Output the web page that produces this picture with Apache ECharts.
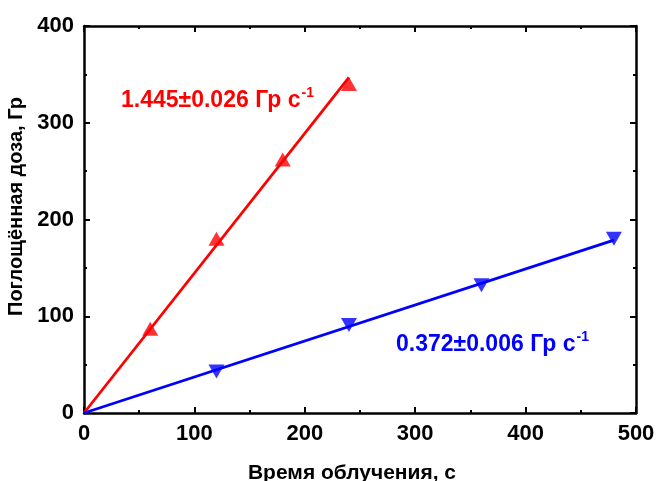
<!DOCTYPE html>
<html>
<head>
<meta charset="utf-8">
<script src="https://cdn.jsdelivr.net/npm/echarts@6/dist/echarts.min.js"></script>
<style>
  html, body { margin: 0; padding: 0; background: #fff; }
  #chart { width: 656px; height: 481px; }
</style>
</head>
<body>
<div id="chart"></div>
<script>
// Irradiation time (s) and absorbed dose (Gy) for the two sources
const redTime = [60, 120, 180, 240];
const redDose = [87, 180, 262, 340];
const blueTime = [120, 240, 360, 480];
const blueDose = [43, 91, 132, 180];

// Linear fits through the origin: endpoints of each fitted line
const redFitTime = [0, 240];
const redFitDose = [0, 346.8];
const blueFitTime = [0, 480];
const blueFitDose = [0, 178.6];

const xTicks = [0, 100, 200, 300, 400, 500];
const yTicks = [0, 100, 200, 300, 400];

const redLabel = '1.445±0.026 Гр с';
const blueLabel = '0.372±0.006 Гр с';
const unitExp = '-1';

const FONT = '"Liberation Sans", Arial, sans-serif';
const pairs = (xs, ys) => xs.map((x, i) => [x, ys[i]]);

// Measure text so the exponent can sit right after the main label
const measureCtx = document.createElement('canvas').getContext('2d');
function textWidth(str, size) {
  measureCtx.font = 'bold ' + size + 'px ' + FONT;
  return measureCtx.measureText(str).width;
}

const LABEL_SIZE = 23;
const EXP_SIZE = 14;

function rateLabel(text, color, x, y) {
  return {
    type: 'group', left: x, top: y,
    children: [
      {
        type: 'text', x: 0, y: 0,
        style: { text: text, fill: color, fontFamily: FONT, fontWeight: 'bold', fontSize: LABEL_SIZE,
                 verticalAlign: 'top' }
      },
      {
        type: 'text', x: textWidth(text, LABEL_SIZE) + 1, y: -3,
        style: { text: unitExp, fill: color, fontFamily: FONT, fontWeight: 'bold', fontSize: EXP_SIZE,
                 verticalAlign: 'top' }
      }
    ]
  };
}

const axisCommon = {
  axisLine: { show: true, onZero: false, lineStyle: { color: '#000', width: 2.5 } },
  axisTick: { show: true, inside: true, length: 6, lineStyle: { color: '#000', width: 2 } },
  minorTick: { show: true, splitNumber: 2, length: 3, lineStyle: { color: '#000', width: 2 } },
  splitLine: { show: false }
};

const chart = echarts.init(document.getElementById('chart'));
chart.setOption({
  animation: false,
  backgroundColor: '#fff',
  grid: { left: 84, right: 20, top: 26, bottom: 68, containLabel: false, outerBoundsMode: 'none' },
  xAxis: [
    Object.assign({}, axisCommon, {
      type: 'value', position: 'bottom',
      min: xTicks[0], max: xTicks[xTicks.length - 1], interval: 100,
      axisLabel: { color: '#000', fontFamily: FONT, fontWeight: 'bold', fontSize: 22, margin: 10 },
      name: 'Время облучения, с', nameLocation: 'middle', nameGap: 50,
      nameTextStyle: { color: '#000', fontFamily: FONT, fontWeight: 'bold', fontSize: 21, padding: [0, 16, 0, 0] }
    }),
    Object.assign({}, axisCommon, {
      type: 'value', position: 'top',
      min: xTicks[0], max: xTicks[xTicks.length - 1], interval: 100,
      axisLabel: { show: false }
    })
  ],
  yAxis: [
    Object.assign({}, axisCommon, {
      type: 'value', position: 'left',
      min: yTicks[0], max: yTicks[yTicks.length - 1], interval: 100,
      axisLabel: { color: '#000', fontFamily: FONT, fontWeight: 'bold', fontSize: 22, margin: 10 },
      name: 'Поглощённая доза, Гр', nameLocation: 'middle', nameGap: 53,
      nameTextStyle: { color: '#000', fontFamily: FONT, fontWeight: 'bold', fontSize: 20, padding: [0, 0, 0, 26] }
    }),
    Object.assign({}, axisCommon, {
      type: 'value', position: 'right',
      min: yTicks[0], max: yTicks[yTicks.length - 1], interval: 100,
      axisLabel: { show: false }
    })
  ],
  series: [
    {
      type: 'line', data: pairs(redFitTime, redFitDose), showSymbol: false,
      lineStyle: { color: '#ff0000', width: 2.8 }, z: 2
    },
    {
      type: 'line', data: pairs(blueFitTime, blueFitDose), showSymbol: false,
      lineStyle: { color: '#0000ff', width: 2.8 }, z: 2
    },
    {
      type: 'scatter', data: pairs(redTime, redDose), symbol: 'triangle', symbolSize: [16, 14],
      itemStyle: { color: '#ff0000' }, z: 3
    },
    {
      type: 'scatter', data: pairs(blueTime, blueDose), symbol: 'triangle', symbolRotate: 180,
      symbolSize: [16, 14], itemStyle: { color: '#0000ff' }, z: 3
    }
  ],
  graphic: [
    rateLabel(redLabel, '#ff0000', 121, 86),
    rateLabel(blueLabel, '#0000ff', 396, 330)
  ]
});
</script>
</body>
</html>
